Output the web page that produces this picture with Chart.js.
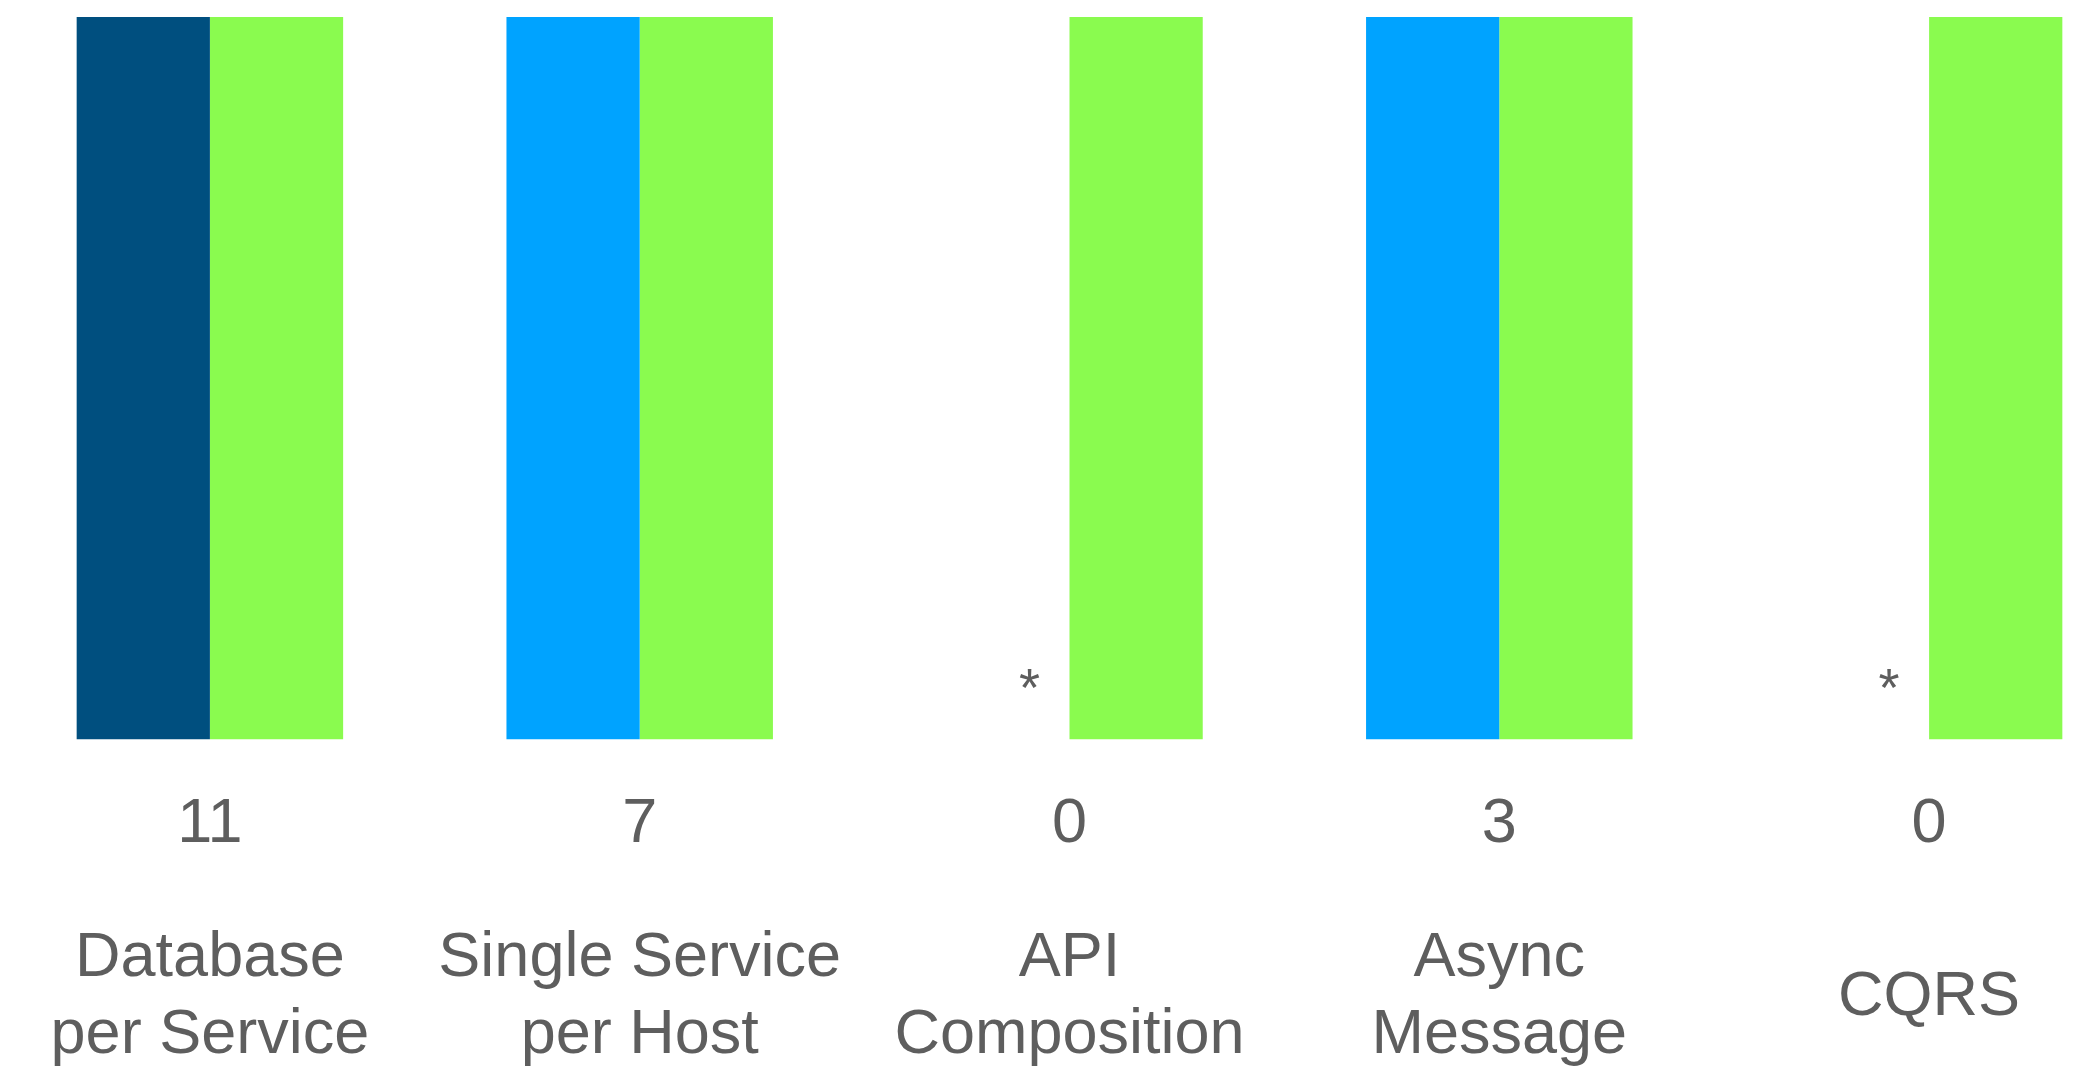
<!DOCTYPE html>
<html>
<head>
<meta charset="utf-8">
<script src="https://cdn.jsdelivr.net/npm/chart.js@4.4.1/dist/chart.umd.min.js"></script>
<style>
  html, body { margin: 0; padding: 0; background: #fff; overflow: hidden; }
  #wrap { position: absolute; left: -5px; top: 0; width: 2149px; height: 1163px; }
</style>
</head>
<body>
<div id="wrap"><canvas id="patternChart"></canvas></div>
<script>
const categories = [
  ["Database", "per Service"],
  ["Single Service", "per Host"],
  ["API", "Composition"],
  ["Async", "Message"],
  "CQRS"
];
const counts = [11, 7, 0, 3, 0];
const usedHeights = [100, 100, 0, 100, 0];
const knownHeights = [100, 100, 100, 100, 100];
const usedColors = ["#004f7f", "#00a3ff", "#00a3ff", "#00a3ff", "#00a3ff"];

const textColor = "#5e5e5e";
const fontFamily = "'Liberation Sans', Arial, sans-serif";

// draws a "*" where the first bar of a group is empty
const missingMark = {
  id: "missingMark",
  afterDatasetsDraw(chart) {
    const meta = chart.getDatasetMeta(0);
    const base = chart.scales.y.getPixelForValue(0);
    const ctx = chart.ctx;
    ctx.save();
    ctx.fillStyle = textColor;
    ctx.font = "54px " + fontFamily;
    ctx.textAlign = "center";
    ctx.textBaseline = "middle";
    meta.data.forEach((bar, i) => {
      if (usedHeights[i] === 0) {
        ctx.fillText("*", bar.x + bar.width / 2 - 40, base - 48);
      }
    });
    ctx.restore();
  }
};

const ctx = document.getElementById("patternChart").getContext("2d");

new Chart(ctx, {
  type: "bar",
  data: {
    labels: categories,
    datasets: [
      {
        label: "Used",
        data: usedHeights,
        backgroundColor: usedColors,
        xAxisID: "x"
      },
      {
        label: "Known",
        data: knownHeights,
        backgroundColor: "#8afb4f",
        xAxisID: "x"
      }
    ]
  },
  options: {
    responsive: true,
    maintainAspectRatio: false,
    animation: false,
    layout: { padding: { top: 17, left: 0, right: 0, bottom: 0 } },
    categoryPercentage: 0.62,
    barPercentage: 1,
    plugins: {
      legend: { display: false },
      tooltip: { enabled: false }
    },
    scales: {
      y: {
        display: false,
        min: 0,
        max: 100
      },
      x: {
        position: "bottom",
        offset: true,
        grid: { display: false, drawTicks: false },
        border: { display: false },
        ticks: {
          color: textColor,
          font: { family: fontFamily, size: 63, lineHeight: 1.2 },
          padding: 47,
          maxRotation: 0,
          autoSkip: false,
          callback: (value, index) => String(counts[index])
        }
      },
      x2: {
        type: "category",
        position: "bottom",
        offset: true,
        grid: { display: false, drawTicks: false },
        border: { display: false },
        ticks: {
          color: textColor,
          font: { family: fontFamily, size: 63, lineHeight: 1.222 },
          padding: 50,
          crossAlign: "center",
          maxRotation: 0,
          autoSkip: false
        }
      }
    }
  },
  plugins: [missingMark]
});
</script>
</body>
</html>
